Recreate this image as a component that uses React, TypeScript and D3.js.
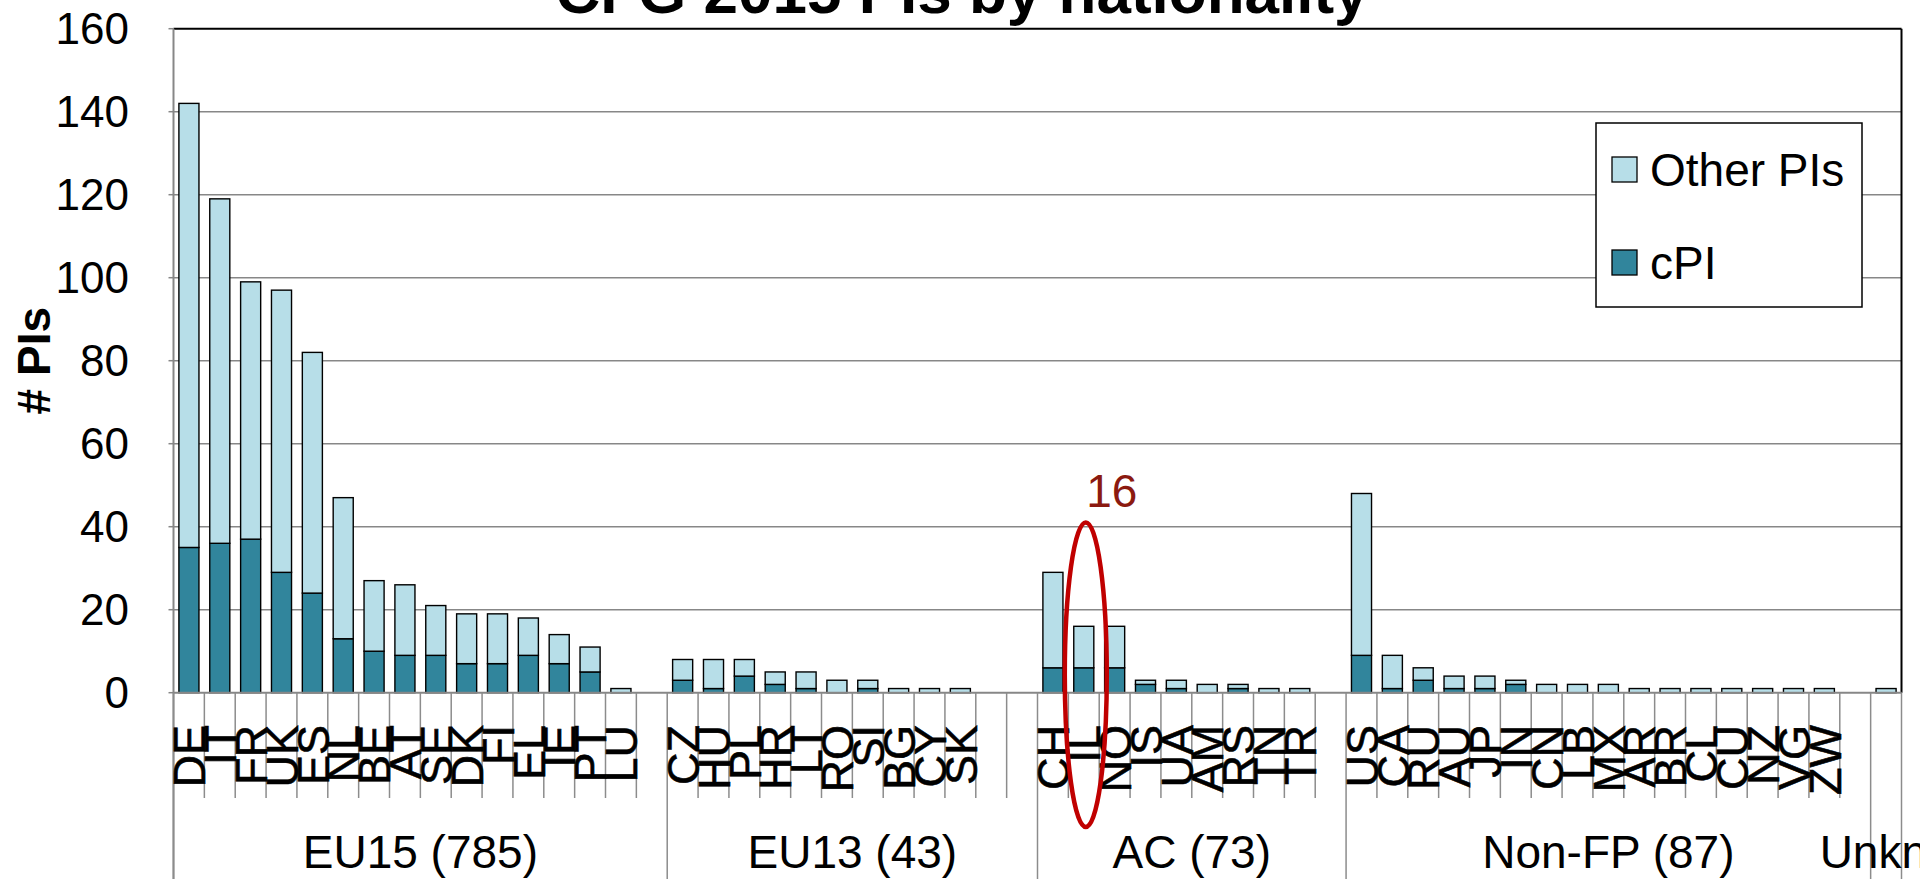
import * as d3 from "d3";

// Values
const eu15Codes = ["DE", "IT", "FR", "UK", "ES", "NL", "BE", "AT", "SE", "DK", "FI", "EL", "IE", "PT", "LU"];
const eu15Cpi = [35, 36, 37, 29, 24, 13, 10, 9, 9, 7, 7, 9, 7, 5, 0];
const eu15Other = [107, 83, 62, 68, 58, 34, 17, 17, 12, 12, 12, 9, 7, 6, 1];

const eu13Codes = ["CZ", "HU", "PL", "HR", "LT", "RO", "SI", "BG", "CY", "SK"];
const eu13Cpi = [3, 1, 4, 2, 1, 0, 1, 0, 0, 0];
const eu13Other = [5, 7, 4, 3, 4, 3, 2, 1, 1, 1];

const acCodes = ["CH", "IL", "NO", "IS", "UA", "AM", "RS", "TN", "TR"];
const acCpi = [6, 6, 6, 2, 1, 0, 1, 0, 0];
const acOther = [23, 10, 10, 1, 2, 2, 1, 1, 1];

const nonFpCodes = ["US", "CA", "RU", "AU", "JP", "IN", "CN", "LB", "MX", "AR", "BR", "CL", "CU", "NZ", "VG", "ZW"];
const nonFpCpi = [9, 1, 3, 1, 1, 2, 0, 0, 0, 0, 0, 0, 0, 0, 0, 0];
const nonFpOther = [39, 8, 3, 3, 3, 1, 2, 2, 2, 1, 1, 1, 1, 1, 1, 1];

const unknownCodes = ["UNK"];
const unknownCpi = [0];
const unknownOther = [1];

const groupLabels = ["EU15 (785)", "EU13 (43)", "AC (73)", "Non-FP (87)", "Unknown (1)"];
const groupBlanks = [1, 2, 1, 1, 0];

const yTicks = [0, 20, 40, 60, 80, 100, 120, 140, 160];
const seriesNames = ["Other PIs", "cPI"];
const annotation = { code: "IL", label: "16" };

const W = 1920;
const H = 879;
const COLORS = { cpi: "#31859C", other: "#B7DEE8" };
const FONT = "'Liberation Sans', Arial, sans-serif";

type Row = { key: string; code: string; cpi: number; other: number; blank: boolean };

const groupDefs = [
  { codes: eu15Codes, cpi: eu15Cpi, other: eu15Other },
  { codes: eu13Codes, cpi: eu13Cpi, other: eu13Other },
  { codes: acCodes, cpi: acCpi, other: acOther },
  { codes: nonFpCodes, cpi: nonFpCpi, other: nonFpOther },
  { codes: unknownCodes, cpi: unknownCpi, other: unknownOther },
];

const groups = groupDefs.map((g, gi) => {
  const rows: Row[] = g.codes.map((c, i) => ({ key: c, code: c, cpi: g.cpi[i], other: g.other[i], blank: false }));
  for (let b = 0; b < groupBlanks[gi]; b++) {
    rows.push({ key: `blank-${gi}-${b}`, code: "", cpi: 0, other: 0, blank: true });
  }
  return { label: groupLabels[gi], rows };
});

const rows = groups.flatMap((g) => g.rows);

export default function App() {
  const left = 173.5;
  const right = 1901.5;
  const x = d3.scaleBand<string>()
    .domain(rows.map((r) => r.key))
    .range([left, right])
    .paddingInner(0.35)
    .paddingOuter(0.175);
  const y = d3.scaleLinear().domain([0, 160]).range([692.7, 28.7]);

  const step = x.step();
  const slotStart = (k: string) => (x(k) as number) - (step - x.bandwidth()) / 2;

  const stack = d3.stack<Row>().keys(["cpi", "other"]);
  const layers = stack(rows);

  const baseY = y(0);
  const shortTickEnd = 798;
  const top = y(160);

  // group boundaries
  const bounds = groups.map((g) => slotStart(g.rows[0].key));
  const groupEnds = groups.map((g, i) => (i < groups.length - 1 ? bounds[i + 1] : right));

  const annX = (x(annotation.code) as number) + x.bandwidth() / 2;
  const annRow = rows.find((r) => r.code === annotation.code)!;

  return (
    <svg
      width={W}
      height={H}
      style={{ position: "fixed", left: 0, top: 0, background: "#fff" }}
      fontFamily={FONT}
    >
      <rect x={0} y={0} width={W} height={H} fill="#fff" />

      {/* title, cut at top as in the source */}
      <text x={962} y={13} textAnchor="middle" fontSize={62} fontWeight="bold" fill="#000">
        CFG 2015 PIs by nationality
      </text>

      {/* gridlines */}
      {yTicks.filter((t) => t > 0 && t < 160).map((t) => (
        <line key={t} x1={left} x2={right} y1={y(t)} y2={y(t)} stroke="#878787" strokeWidth={1.4} />
      ))}

      {/* plot area border (top/right) */}
      <line x1={left} x2={right} y1={top} y2={top} stroke="#000" strokeWidth={2} />
      <line x1={right} x2={right} y1={top} y2={baseY} stroke="#000" strokeWidth={2} />

      {/* y axis */}
      <line x1={left} x2={left} y1={top} y2={H} stroke="#878787" strokeWidth={2} />
      {yTicks.map((t) => (
        <g key={t}>
          <line x1={left - 5} x2={left} y1={y(t)} y2={y(t)} stroke="#878787" strokeWidth={1.5} />
          <text x={129} y={y(t)} dy="0.35em" textAnchor="end" fontSize={44} fill="#000">
            {t}
          </text>
        </g>
      ))}
      <text
        transform={`translate(50,${y(80)}) rotate(-90)`}
        textAnchor="middle"
        fontSize={46}
        fontWeight="bold"
        fill="#000"
      >
        # PIs
      </text>

      {/* bars */}
      {layers.map((layer) => (
        <g key={layer.key} fill={layer.key === "cpi" ? COLORS.cpi : COLORS.other}>
          {layer.map((d) => {
            const r = d.data;
            if (r.blank || d[1] - d[0] <= 0) return null;
            return (
              <rect
                key={r.key}
                x={x(r.key)}
                width={x.bandwidth()}
                y={y(d[1])}
                height={y(d[0]) - y(d[1])}
                stroke="#000"
                strokeWidth={1.4}
              />
            );
          })}
        </g>
      ))}

      {/* x axis line */}
      <line x1={left} x2={right} y1={baseY} y2={baseY} stroke="#878787" strokeWidth={2} />

      {/* category ticks */}
      {rows.map((r) => {
        const sx = slotStart(r.key);
        const isBound = bounds.some((b) => Math.abs(b - sx) < 0.5);
        return (
          <line
            key={`t-${r.key}`}
            x1={sx}
            x2={sx}
            y1={baseY}
            y2={isBound ? H : shortTickEnd}
            stroke="#8c8c8c"
            strokeWidth={1.5}
          />
        );
      })}
      <line x1={right} x2={right} y1={baseY} y2={H} stroke="#8c8c8c" strokeWidth={1.5} />

      {/* category labels */}
      {rows.filter((r) => !r.blank && r.code !== "UNK").map((r) => (
        <text
          key={`l-${r.key}`}
          transform={`translate(${(x(r.key) as number) + x.bandwidth() / 2},725) rotate(-90)`}
          dy="0.36em"
          textAnchor="end"
          fontSize={45}
          fill="#000"
          stroke="#000"
          strokeWidth={0.6}
        >
          {r.code}
        </text>
      ))}

      {/* group labels */}
      {groups.map((g, i) =>
        i < groups.length - 1 ? (
          <text key={g.label} x={(bounds[i] + groupEnds[i]) / 2} y={868} textAnchor="middle" fontSize={46} fill="#000">
            {g.label}
          </text>
        ) : (
          <text key={g.label} x={bounds[i] - 51} y={868} textAnchor="start" fontSize={46} fill="#000">
            {g.label}
          </text>
        )
      )}

      {/* legend */}
      <rect x={1596} y={123} width={266} height={184} fill="#fff" stroke="#000" strokeWidth={1.5} />
      {seriesNames.map((s, i) => (
        <g key={s} transform={`translate(1612,${157 + i * 93})`}>
          <rect width={25} height={25} fill={s === "cPI" ? COLORS.cpi : COLORS.other} stroke="#000" strokeWidth={1.3} />
          <text x={38} y={12.5} dy="0.36em" fontSize={46} fill="#000">
            {s}
          </text>
        </g>
      ))}

      {/* annotation */}
      <ellipse
        cx={annX + 2}
        cy={(y(41) + 827) / 2}
        rx={21}
        ry={(827 - y(41)) / 2}
        fill="none"
        stroke="#C00000"
        strokeWidth={4.5}
      />
      <text x={annX + 28} y={y(annRow.cpi + annRow.other) - 119} textAnchor="middle" fontSize={46} fill="#8B1A10">
        {annotation.label}
      </text>
    </svg>
  );
}
